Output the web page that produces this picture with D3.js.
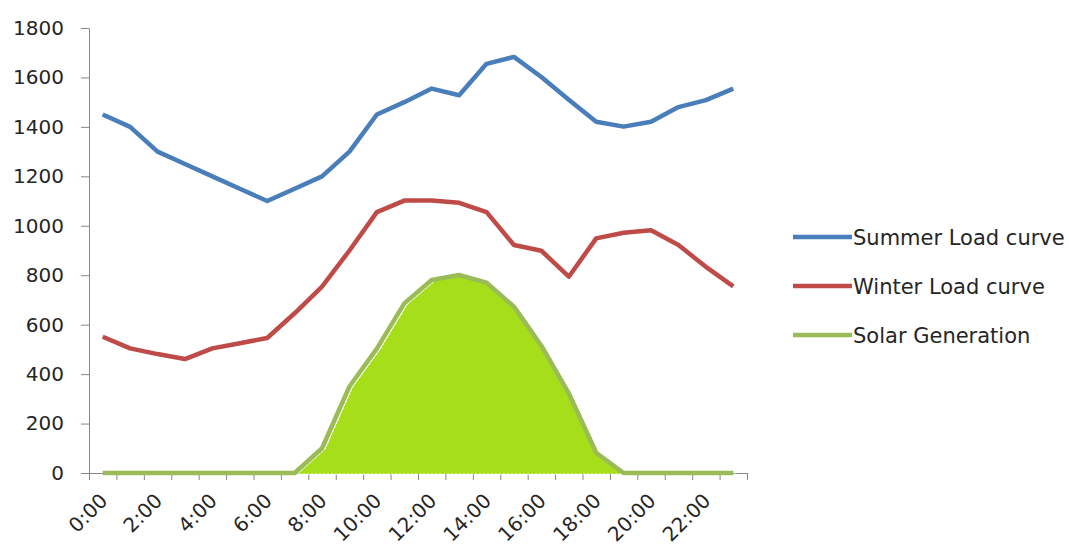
<!DOCTYPE html>
<html>
<head>
<meta charset="utf-8">
<script src="https://cdn.jsdelivr.net/npm/d3@7"></script>
<style>
  body { margin: 0; background: #fff; }
  text { font-family: "DejaVu Sans", Verdana, sans-serif; fill: #262626; }
</style>
</head>
<body>
<svg id="chart" width="1069" height="552"></svg>
<script>
// hourly categories
const hours = ['0:00','1:00','2:00','3:00','4:00','5:00','6:00','7:00','8:00','9:00','10:00','11:00',
  '12:00','13:00','14:00','15:00','16:00','17:00','18:00','19:00','20:00','21:00','22:00','23:00'];
const summerLoad = [1450, 1400, 1300, 1250, 1200, 1150, 1100, 1150, 1200, 1300, 1450, 1500,
  1555, 1528, 1655, 1683, 1602, 1510, 1421, 1401, 1421, 1480, 1508, 1555];
const winterLoad = [551, 504, 481, 461, 504, 525, 546, 646, 754, 900, 1055, 1102,
  1102, 1093, 1055, 922, 899, 794, 949, 972, 982, 922, 834, 755];
const solarGen = [0, 0, 0, 0, 0, 0, 0, 0, 100, 350, 503, 686,
  781, 801, 770, 673, 515, 322, 82, 0, 0, 0, 0, 0];
const yTicks = [0, 200, 400, 600, 800, 1000, 1200, 1400, 1600, 1800];
const seriesNames = ['Summer Load curve', 'Winter Load curve', 'Solar Generation'];
const seriesColors = ['#4a7ebb', '#be4b48', '#9bbb59'];

const plot = { left: 89, right: 747, top: 28, bottom: 473 };

const svg = d3.select('#chart');

const x = d3.scaleBand().domain(hours).range([plot.left, plot.right]).padding(0);
const xEdge = d3.scaleLinear().domain([0, hours.length]).range([plot.left, plot.right]);
const y = d3.scaleLinear().domain([0, 1800]).range([plot.bottom, plot.top]);
const cx = h => x(h) + x.bandwidth() / 2;

// y axis
const yAxis = svg.append('g')
  .attr('transform', `translate(${plot.left},0)`)
  .call(d3.axisLeft(y).tickValues(yTicks).tickFormat(d3.format('d'))
    .tickSize(8).tickPadding(17).tickSizeOuter(0));
yAxis.select('.domain').attr('stroke', '#868686');
yAxis.selectAll('.tick line').attr('stroke', '#868686');
yAxis.selectAll('.tick text').style('font-size', '20px').attr('fill', '#262626');

// x axis: tick marks between categories
const xAxis = svg.append('g')
  .attr('transform', `translate(0,${plot.bottom})`)
  .call(d3.axisBottom(xEdge).tickValues(d3.range(0, hours.length + 1)).tickSize(7).tickFormat('').tickSizeOuter(0));
xAxis.select('.domain').attr('stroke', '#868686');
xAxis.selectAll('.tick line').attr('stroke', '#868686');

// x labels every 2 hours, rotated
svg.append('g').selectAll('text')
  .data(hours.filter((h, i) => i % 2 === 0))
  .join('text')
  .attr('transform', h => `translate(${cx(h) + 6},${plot.bottom + 29}) rotate(-45)`)
  .attr('text-anchor', 'end')
  .style('font-size', '20px')
  .text(h => h);

// solar area
const area = d3.area()
  .x((d, i) => cx(hours[i]))
  .y0(y(0))
  .y1(d => y(d));
svg.append('path')
  .datum(solarGen)
  .attr('transform', 'translate(3,1)')
  .attr('d', area)
  .attr('fill', '#a6de1a')
  .attr('stroke', '#ffffff')
  .attr('stroke-width', 1)
  .attr('stroke-dasharray', '2,2');

// lines
const line = d3.line()
  .x((d, i) => cx(hours[i]))
  .y(d => y(d));
[summerLoad, winterLoad, solarGen].forEach((vals, k) => {
  svg.append('path')
    .datum(vals)
    .attr('d', line)
    .attr('fill', 'none')
    .attr('stroke', seriesColors[k])
    .attr('stroke-width', 4.5)
    .attr('stroke-linejoin', 'round');
});

// legend
const legend = svg.append('g');
seriesNames.forEach((name, k) => {
  const ly = 237 + k * 49;
  legend.append('line')
    .attr('x1', 793).attr('x2', 852)
    .attr('y1', ly).attr('y2', ly)
    .attr('stroke', seriesColors[k])
    .attr('stroke-width', 4.5);
  legend.append('text')
    .attr('x', 853).attr('y', ly + 8)
    .style('font-size', '21px')
    .text(name);
});
</script>
</body>
</html>
